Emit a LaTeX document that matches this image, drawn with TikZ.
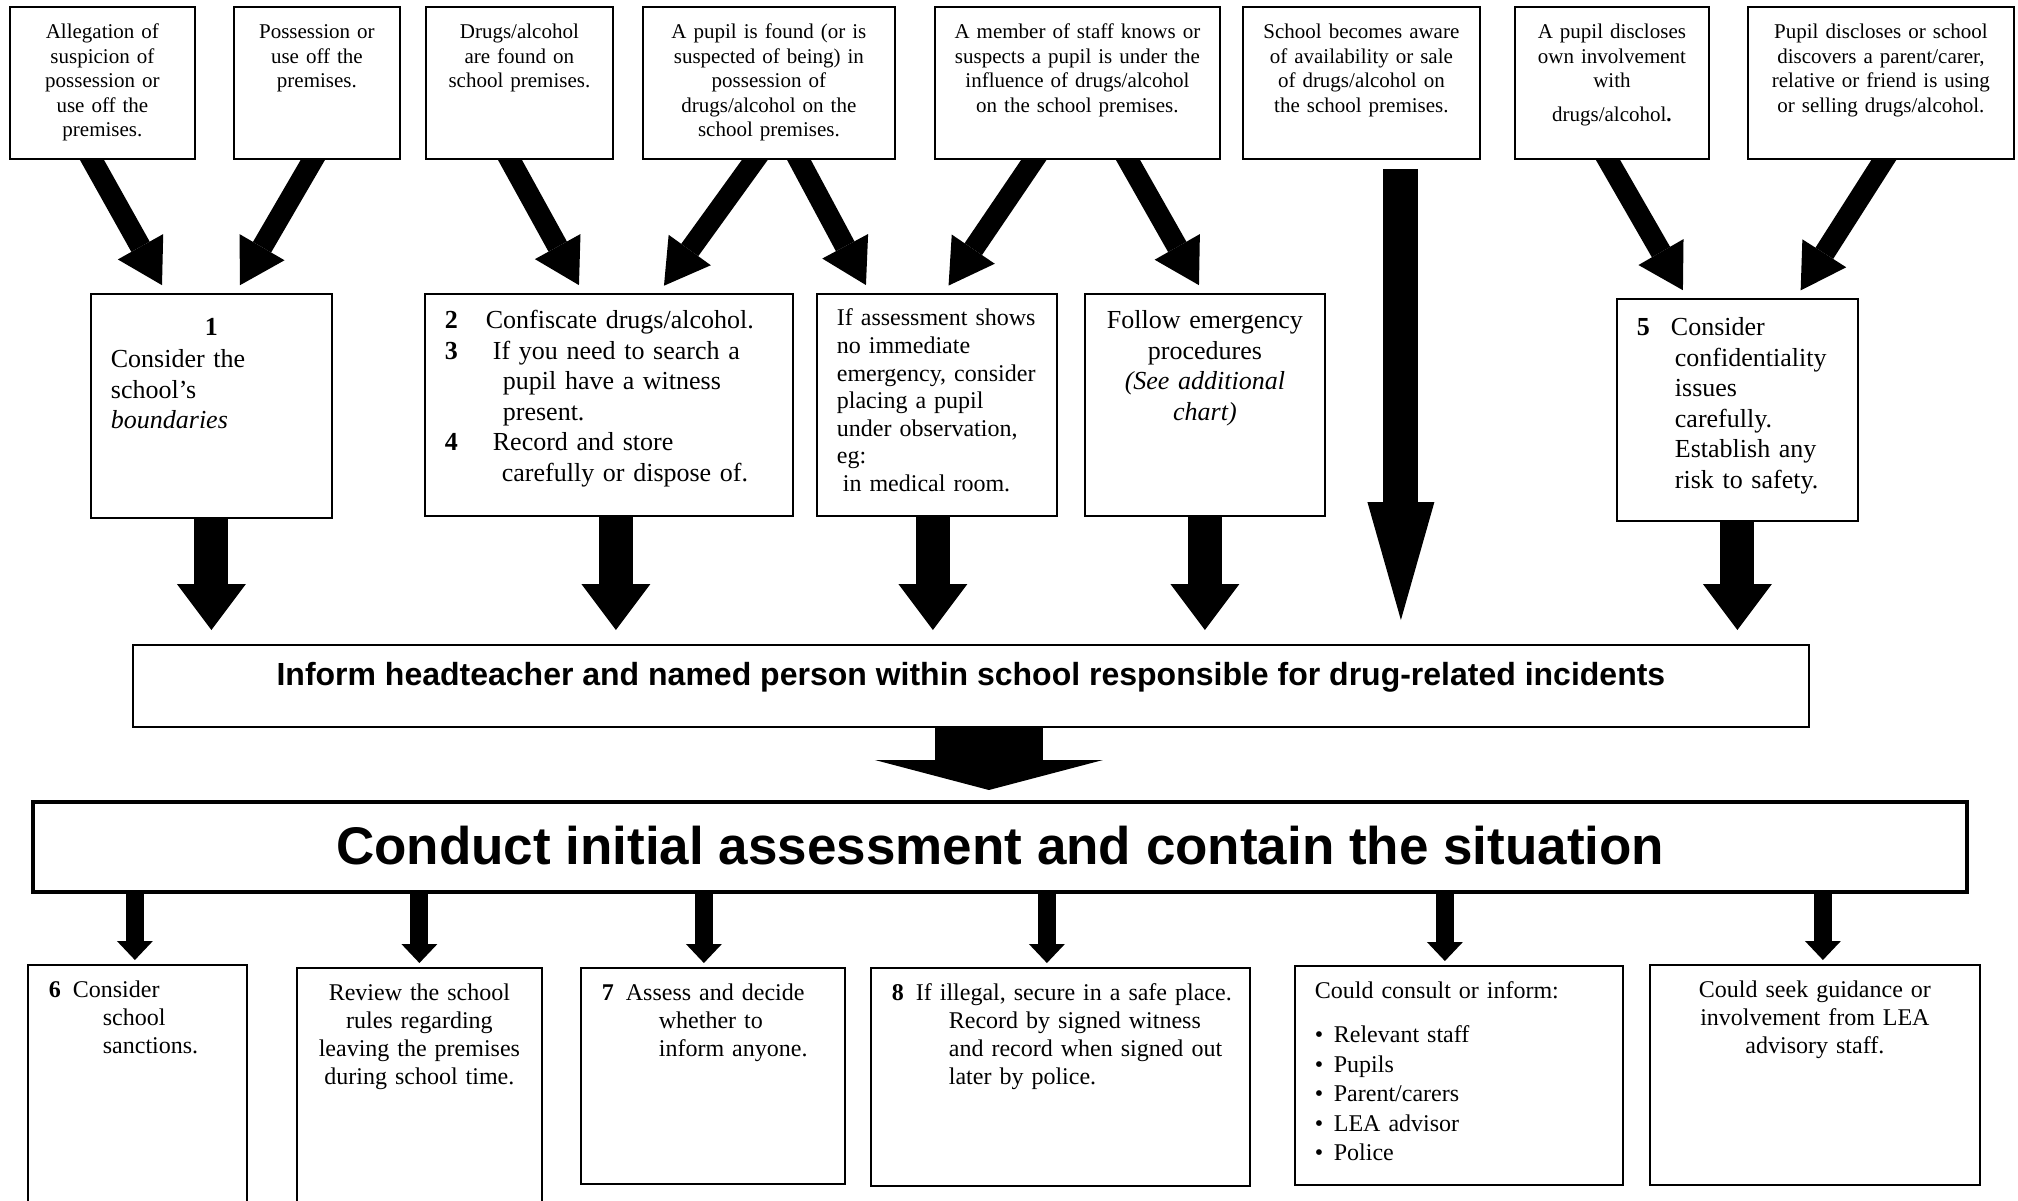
\documentclass[tikz,border=0pt]{standalone}
\usepackage{fontspec}
\setmainfont{Liberation Serif}
\setsansfont{Liberation Sans}
\usepackage{tikz}
\usetikzlibrary{arrows.meta,backgrounds}

\newcommand\topfont{\fontsize{10.5pt}{12.25pt}\selectfont}
\newcommand\midfont{\fontsize{13pt}{15.25pt}\selectfont}
\newcommand\lowfont{\fontsize{12pt}{14pt}\selectfont}
\newcommand\stepnum[2]{\makebox[#1][l]{\textbf{#2}}}% width, number
\newcommand\bulletitem{\makebox[9.5pt][l]{\textbullet}}

\begin{document}
\begin{tikzpicture}[x=0.5pt,y=-0.5pt]
		\tikzstyle{BoxSty}=[draw,line width=0.9pt,fill=white,anchor=north west,inner ysep=0pt]
		\tikzstyle{TopSty}=[BoxSty,align=center,inner xsep=3pt,font=\topfont,text height=15.8pt,text depth=60.2pt]
		\tikzstyle{MidSty}=[BoxSty,inner xsep=10pt,font=\midfont,text height=17.5pt,text depth=93.5pt]
		\tikzstyle{LowSty}=[BoxSty,inner xsep=10.5pt,font=\lowfont,text height=16.5pt]
		\tikzstyle{SlantSty}=[line width=10.5pt,-{Triangle[width=26pt,length=22pt,line width=0pt]},shorten >=4.5pt,shorten <=-4pt]
		\tikzstyle{DownSty}=[line width=17pt,-{Triangle[width=34.5pt,length=23pt,line width=0pt]},shorten >=7pt]
		\tikzstyle{SmallSty}=[line width=9pt,-{Triangle[width=18pt,length=9.5pt,line width=0pt]},shorten >=2pt]

\useasboundingbox (0,0) rectangle (2018,1200);

% what the school finds out
\node[TopSty,text width=86.5pt] at (9,6) (off_site) {Allegation of\\ suspicion of\\ possession or\\ use off the\\ premises.};
\node[TopSty,text width=77pt] at (233,6) (off_use) {Possession or\\ use off the\\ premises.};
\node[TopSty,text width=87.5pt] at (425,6) (found_drugs) {Drugs/alcohol\\ are found on\\ school  premises.};
\node[TopSty,text width=120pt] at (642,6) (pupil_found) {A pupil is found (or is\\ suspected of being) in\\ possession of\\ drugs/alcohol on the\\ school premises.};
\node[TopSty,text width=136.5pt] at (934,6) (staff_knows) {A member of staff knows or\\ suspects a pupil is under the\\ influence of  drugs/alcohol\\ on the school premises.};
\node[TopSty,text width=112.5pt] at (1242,6) (school_aware) {School becomes aware\\ of availability or  sale\\ of drugs/alcohol on\\ the school premises.};
\node[TopSty,text width=91pt] at (1514,6) (pupil_discloses) {A pupil discloses\\ own involvement\\ with\\[4.5pt] drugs/alcohol\textbf{.}};
\node[TopSty,text width=127pt] at (1747,6) (family_use) {Pupil discloses or school\\ discovers a parent/carer,\\ relative or friend is using\\ or selling drugs/alcohol.};

% first actions
\node[MidSty,align=left,text width=100.5pt,text height=21pt,text depth=91pt] at (90,293) (boundaries) {\makebox[\linewidth]{\textbf{1}}\\[0.75pt]Consider the\\ school's\\ \textit{boundaries}};
\node[MidSty,align=left,text width=164pt] at (424,293) (confiscate) {\stepnum{20.5pt}{2}Confiscate drugs/alcohol.\\
 \stepnum{24pt}{3}If you need to search a\\ \hspace*{29pt}pupil have a witness\\ \hspace*{29pt}present.\\
 \stepnum{24pt}{4}Record and store\\ \hspace*{28.5pt}carefully or dispose of.};
\node[MidSty,align=left,font=\fontsize{12pt}{13.8pt}\selectfont,text width=100pt,text height=16pt,text depth=95pt] at (816,293) (observe) {If assessment shows\\ no immediate\\ emergency, consider\\ placing a pupil\\ under observation,\\ eg:\\ \hspace*{3pt}in medical room.};
\node[MidSty,align=center,inner xsep=6pt,text width=108pt] at (1084,293) (emergency) {Follow emergency\\ procedures\\ {\itshape (See additional\\ chart)}};
\node[MidSty,align=left,text width=100.5pt,text height=18.3pt,text depth=92.7pt] at (1616,298) (confidential) {\stepnum{17pt}{5}Consider\\ \hspace*{19pt}confidentiality\\ \hspace*{19pt}issues\\ \hspace*{19pt}carefully.\\ \hspace*{19pt}Establish any\\ \hspace*{19pt}risk to safety.};

\node[BoxSty,minimum width=838pt,font=\fontsize{16pt}{19pt}\selectfont\sffamily\bfseries,text height=20.5pt,text depth=20.5pt] at (132,644) (inform) {Inform headteacher and named person within school responsible for drug-related incidents};
\node[BoxSty,line width=2.2pt,minimum width=967pt,font=\fontsize{26.5pt}{30pt}\selectfont\sffamily\bfseries,text height=31.2pt,text depth=13.8pt] at (31,800) (conduct) {Conduct initial assessment and contain the situation};

% what follows
\node[LowSty,align=left,text width=88.5pt,text depth=111.5pt] at (27,964) (sanctions) {\stepnum{12pt}{6}Consider\\ \hspace*{27pt}school\\ \hspace*{27pt}sanctions.};
\node[LowSty,align=center,inner xsep=4pt,text width=114.5pt,text depth=110pt] at (296,967) (rules) {Review the school\\ rules regarding\\ leaving the premises\\ during school time.};
\node[LowSty,align=left,text width=111pt,text depth=91.5pt] at (580,967) (decide) {\stepnum{12pt}{7}Assess and decide\\ \hspace*{28.5pt}whether to\\ \hspace*{28.5pt}inform anyone.};
\node[LowSty,align=left,text width=168.5pt,text depth=92.5pt] at (870,967) (secure) {\mbox{\stepnum{12pt}{8}If illegal, secure in a safe place.}\\ \hspace*{28.5pt}Record by signed witness\\ \hspace*{28.5pt}and record when signed out\\ \hspace*{28.5pt}later by police.};
\node[LowSty,align=left,inner xsep=10pt,font=\fontsize{12pt}{14.8pt}\selectfont,text width=144pt,text height=16.5pt,text depth=93pt] at (1294,965) (consult) {Could consult or inform:\\[7pt]
 \bulletitem Relevant staff\\ \bulletitem Pupils\\ \bulletitem Parent/carers\\ \bulletitem LEA advisor\\ \bulletitem Police};
\node[LowSty,align=center,inner xsep=6pt,text width=153pt,text depth=93.5pt] at (1649,964) (guidance) {Could seek guidance or\\ involvement from LEA\\ advisory staff.};

\begin{scope}[on background layer]
  \fill[white] (0,0) rectangle (2018,1200);

  \draw[SlantSty] ([xshift=-5.25pt]off_site.south) -- ([xshift=-22.5pt]boundaries.north);
  \draw[SlantSty] ([xshift=-2pt]off_use.south) -- ([xshift=12pt]boundaries.north);
  \draw[SlantSty] ([xshift=-4.75pt]found_drugs.south) -- ([xshift=-12.8pt]confiscate.north);
  \draw[SlantSty] ([xshift=-7pt]pupil_found.south) -- ([xshift=24.9pt]confiscate.north);
  \draw[SlantSty] ([xshift=15pt]pupil_found.south) -- ([xshift=-33.35pt]observe.north);
  \draw[SlantSty] ([xshift=-21.75pt]staff_knows.south) -- ([xshift=3.3pt]observe.north);
  \draw[SlantSty] ([xshift=25.25pt]staff_knows.south) -- ([xshift=-0.75pt]emergency.north);
  \draw[SlantSty] ([xshift=-2pt]pupil_discloses.south) -- ([xshift=-25pt]confidential.north);
  \draw[SlantSty] ([xshift=1.5pt]family_use.south) -- ([xshift=29.2pt]confidential.north);

  \draw[line width=17.5pt,-{Triangle[width=33.5pt,length=59pt,line width=0pt]},shorten <=4.5pt,shorten >=12pt]
    ([xshift=19.75pt]school_aware.south) -- ([xshift=19.75pt]school_aware.south |- inform.north);

  \draw[DownSty] (boundaries.south) -- (boundaries.south |- inform.north);
  \draw[DownSty] ([xshift=3.5pt]confiscate.south) -- ([xshift=3.5pt]confiscate.south |- inform.north);
  \draw[DownSty] ([xshift=-2pt]observe.south) -- ([xshift=-2pt]observe.south |- inform.north);
  \draw[DownSty] (emergency.south) -- (emergency.south |- inform.north);
  \draw[DownSty] (confidential.south) -- (confidential.south |- inform.north);

  \draw[line width=54pt,-{Triangle[width=114pt,length=15pt,line width=0pt]},shorten >=5pt]
    ([xshift=9pt]inform.south) -- ([xshift=9pt]inform.south |- conduct.north);

  \draw[SmallSty] ([xshift=-1.25pt]sanctions.north |- conduct.south) -- ([xshift=-1.25pt]sanctions.north);
  \draw[SmallSty] (rules.north |- conduct.south) -- (rules.north);
  \draw[SmallSty] ([xshift=-4.5pt]decide.north |- conduct.south) -- ([xshift=-4.5pt]decide.north);
  \draw[SmallSty] ([xshift=-6.75pt]secure.north |- conduct.south) -- ([xshift=-6.75pt]secure.north);
  \draw[SmallSty] ([xshift=-7pt]consult.north |- conduct.south) -- ([xshift=-7pt]consult.north);
  \draw[SmallSty] ([xshift=4pt]guidance.north |- conduct.south) -- ([xshift=4pt]guidance.north);
\end{scope}

\end{tikzpicture}
\end{document}
